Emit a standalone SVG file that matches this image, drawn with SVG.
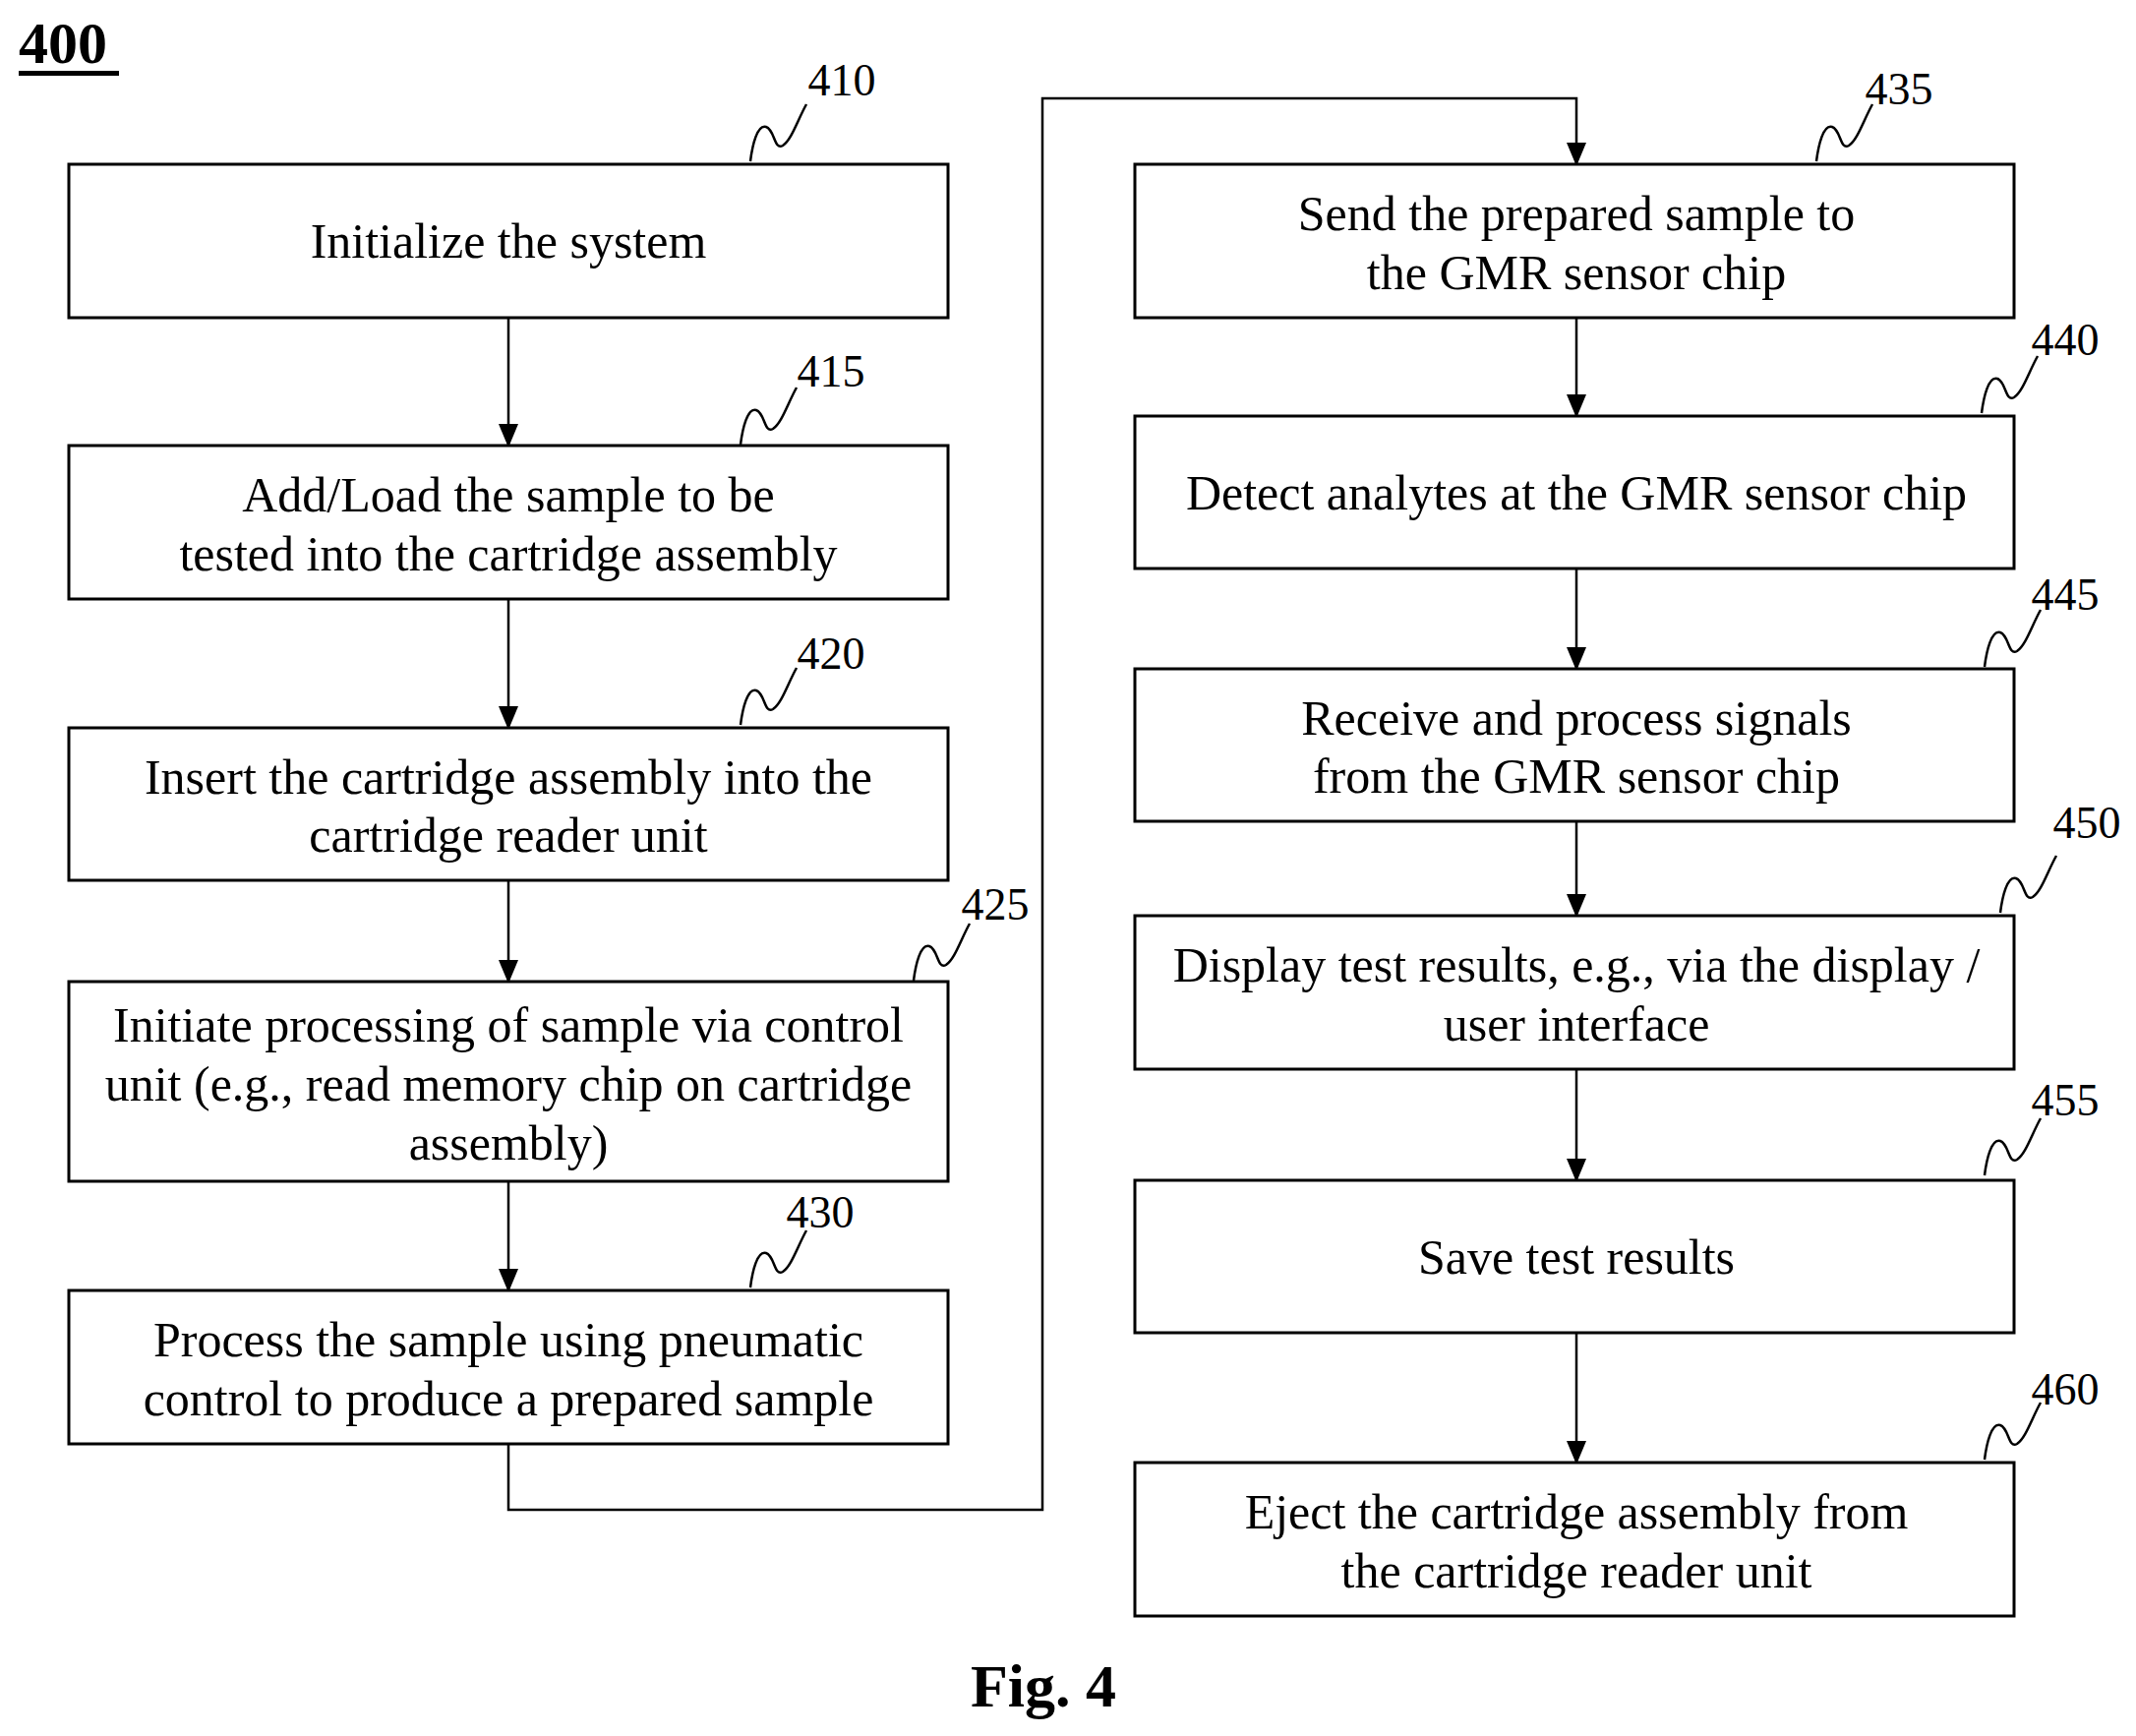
<svg xmlns="http://www.w3.org/2000/svg" width="2172" height="1765" viewBox="0 0 2172 1765">
<style>
.b{fill:#fff;stroke:#000;stroke-width:3}
.t{font-family:"Liberation Serif",serif;font-size:50px;text-anchor:middle}
.n{font-family:"Liberation Serif",serif;font-size:46px;text-anchor:middle}
.c{fill:none;stroke:#000;stroke-width:2.5}
.s{fill:none;stroke:#000;stroke-width:2.5}
</style>
<defs>
<marker id="ah" markerWidth="24" markerHeight="20" refX="22" refY="10" orient="auto" markerUnits="userSpaceOnUse"><path d="M0,0L24,10L0,20z"/></marker>
<path id="sq" d="M0,0 C2,-16 7,-38 16,-35 C25,-32 24,-11 33,-16 C42,-22 48,-42 57,-58"/>
</defs>
<text x="19" y="64" font-family="Liberation Serif,serif" font-weight="bold" font-size="60">400</text>
<rect x="19" y="72" width="102" height="5"/>
<g id="connectors">
<path class="c" marker-end="url(#ah)" d="M517,323V453"/>
<path class="c" marker-end="url(#ah)" d="M517,609V740"/>
<path class="c" marker-end="url(#ah)" d="M517,895V998"/>
<path class="c" marker-end="url(#ah)" d="M517,1201V1312"/>
<path class="c" marker-end="url(#ah)" d="M517,1468V1535H1060V100H1603V167"/>
<path class="c" marker-end="url(#ah)" d="M1603,323V423"/>
<path class="c" marker-end="url(#ah)" d="M1603,578V680"/>
<path class="c" marker-end="url(#ah)" d="M1603,835V931"/>
<path class="c" marker-end="url(#ah)" d="M1603,1087V1200"/>
<path class="c" marker-end="url(#ah)" d="M1603,1355V1487"/>
</g>
<g id="n410"><rect class="b" x="70" y="167" width="894" height="156"/><text class="t" x="517" y="262">Initialize the system</text><use href="#sq" class="s" x="763" y="164"/><text class="n" x="856" y="97">410</text></g>
<g id="n415"><rect class="b" x="70" y="453" width="894" height="156"/><text class="t" x="517" y="520">Add/Load the sample to be</text><text class="t" x="517" y="580">tested into the cartridge assembly</text><use href="#sq" class="s" x="753" y="452"/><text class="n" x="845" y="393">415</text></g>
<g id="n420"><rect class="b" x="70" y="740" width="894" height="155"/><text class="t" x="517" y="807">Insert the cartridge assembly into the</text><text class="t" x="517" y="866">cartridge reader unit</text><use href="#sq" class="s" x="753" y="737"/><text class="n" x="845" y="680">420</text></g>
<g id="n425"><rect class="b" x="70" y="998" width="894" height="203"/><text class="t" x="517" y="1059">Initiate processing of sample via control</text><text class="t" x="517" y="1119">unit (e.g., read memory chip on cartridge</text><text class="t" x="517" y="1179">assembly)</text><use href="#sq" class="s" x="929" y="997"/><text class="n" x="1012" y="935">425</text></g>
<g id="n430"><rect class="b" x="70" y="1312" width="894" height="156"/><text class="t" x="517" y="1379">Process the sample using pneumatic</text><text class="t" x="517" y="1439">control to produce a prepared sample</text><use href="#sq" class="s" x="763" y="1309"/><text class="n" x="834" y="1248">430</text></g>
<g id="n435"><rect class="b" x="1154" y="167" width="894" height="156"/><text class="t" x="1603" y="234">Send the prepared sample to</text><text class="t" x="1603" y="294">the GMR sensor chip</text><use href="#sq" class="s" x="1847" y="164"/><text class="n" x="1931" y="106">435</text></g>
<g id="n440"><rect class="b" x="1154" y="423" width="894" height="155"/><text class="t" x="1603" y="518">Detect analytes at the GMR sensor chip</text><use href="#sq" class="s" x="2015" y="420"/><text class="n" x="2100" y="361">440</text></g>
<g id="n445"><rect class="b" x="1154" y="680" width="894" height="155"/><text class="t" x="1603" y="747">Receive and process signals</text><text class="t" x="1603" y="806">from the GMR sensor chip</text><use href="#sq" class="s" x="2018" y="678"/><text class="n" x="2100" y="620">445</text></g>
<g id="n450"><rect class="b" x="1154" y="931" width="894" height="156"/><text class="t" x="1603" y="998">Display test results, e.g., via the display /</text><text class="t" x="1603" y="1058">user interface</text><use href="#sq" class="s" x="2034" y="928"/><text class="n" x="2122" y="852">450</text></g>
<g id="n455"><rect class="b" x="1154" y="1200" width="894" height="155"/><text class="t" x="1603" y="1295">Save test results</text><use href="#sq" class="s" x="2018" y="1195"/><text class="n" x="2100" y="1134">455</text></g>
<g id="n460"><rect class="b" x="1154" y="1487" width="894" height="156"/><text class="t" x="1603" y="1554">Eject the cartridge assembly from</text><text class="t" x="1603" y="1614">the cartridge reader unit</text><use href="#sq" class="s" x="2018" y="1484"/><text class="n" x="2100" y="1428">460</text></g>
<text x="1061" y="1735" font-family="Liberation Serif,serif" font-weight="bold" font-size="62" text-anchor="middle">Fig. 4</text>
</svg>
